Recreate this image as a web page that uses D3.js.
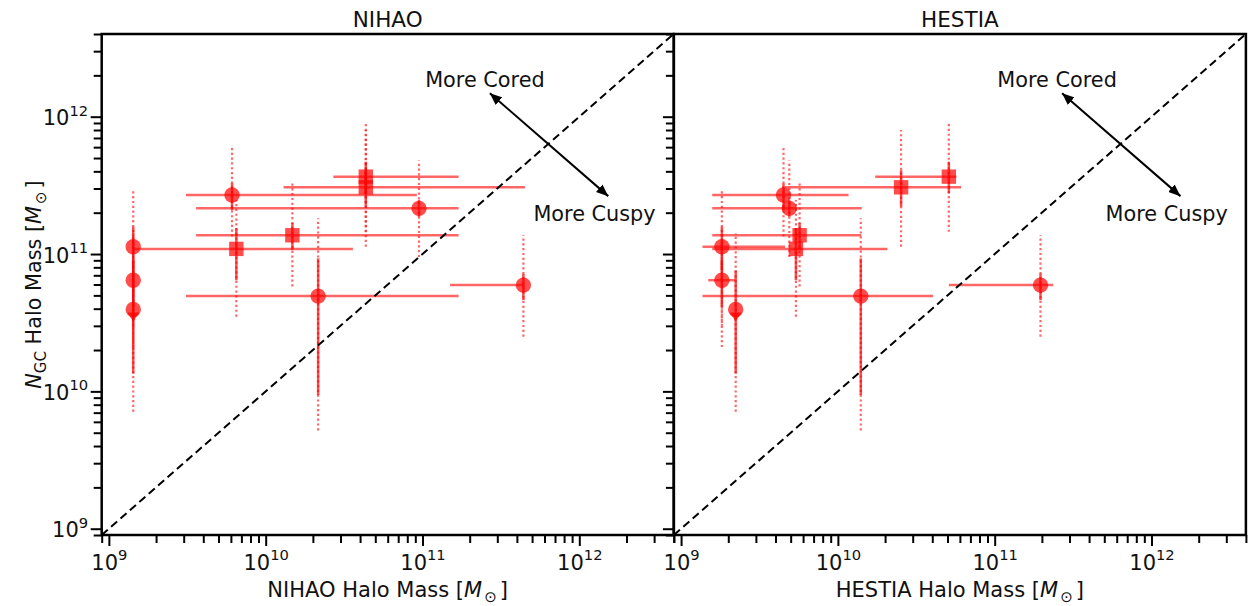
<!DOCTYPE html>
<html>
<head>
<meta charset="utf-8">
<script src="https://cdn.jsdelivr.net/npm/d3@7"></script>
<style>
  html, body { margin: 0; padding: 0; background: #fff; }
  svg { display: block; }
</style>
</head>
<body>
<svg id="chart" width="1250" height="606"></svg>
<script>
// Halo masses inferred from globular-cluster counts (y for both panels)
const ngcMass = [1.13e11, 6.45e10, 3.95e10, 1.09e11, 2.69e11, 2.15e11, 1.37e11, 3.66e11, 3.06e11, 4.94e10, 5.94e10];
// Inner (solid) and outer (dotted) uncertainty ranges on the GC-based mass
const ngcMassSolid = [[7.6e10, 1.58e11], [4.1e10, 9.0e10], [1.35e10, 7.6e10], [6.45e10, 1.54e11], [2.09e11, 3.27e11], [1.87e11, 2.47e11], [1.07e11, 1.68e11], [2.77e11, 4.7e11], [2.21e11, 4.08e11], [9.4e9, 9.3e10], [4.6e10, 7.2e10]];
const ngcMassDotted = [[2.1e10, 2.96e11], [3.0e10, 1.3e11], [7.1e9, 1.41e11], [3.5e10, 2.47e11], [1.34e11, 6.2e11], [9.5e10, 4.8e11], [5.8e10, 3.27e11], [1.45e11, 9.2e11], [1.13e11, 8.0e11], [5.2e9, 1.82e11], [2.5e10, 1.37e11]];

// Simulation-matched halo masses and their ranges
const nihaoMass = [1.43e9, 1.43e9, 1.43e9, 6.5e9, 6.1e9, 9.5e10, 1.48e10, 4.35e10, 4.35e10, 2.16e10, 4.4e11];
const nihaoMassRange = [[1.43e9, 1.43e9], [1.43e9, 1.43e9], [1.43e9, 1.43e9], [1.43e9, 3.6e10], [3.1e9, 9.2e10], [3.6e9, 1.7e11], [3.6e9, 1.7e11], [2.7e10, 1.7e11], [1.3e10, 4.5e11], [3.1e9, 1.7e11], [1.5e11, 4.4e11]];
const hestiaMass = [1.82e9, 1.82e9, 2.23e9, 5.4e9, 4.5e9, 4.9e9, 5.7e9, 5.1e10, 2.53e10, 1.4e10, 1.96e11];
const hestiaMassRange = [[1.37e9, 4.6e9], [1.49e9, 2.21e9], [2.23e9, 2.23e9], [1.58e9, 2.07e10], [1.58e9, 1.17e10], [1.58e9, 1.42e10], [1.58e9, 1.41e10], [1.73e10, 5.7e10], [4.6e9, 6.1e10], [1.37e9, 4.05e10], [5.1e10, 2.36e11]];

const markerShape = ["circle", "circle", "circle", "square", "circle", "circle", "square", "square", "square", "circle", "circle"];
const upperLimit = [false, false, true, false, false, false, false, false, false, false, false];

const panelTitles = ["NIHAO", "HESTIA"];
const axisLimits = [9e8, 4e12];
const decadeTicks = [1e9, 1e10, 1e11, 1e12];

// Annotation anchors, in data units
const coredArrowEnd = [2.69e11, 1.48e12];
const cuspyArrowEnd = [1.53e12, 2.64e11];
const coredLabelAt = [2.5e11, 1.64e12];
const cuspyLabelAt = [1.25e12, 1.75e11];

const FONT = "'DejaVu Sans', sans-serif";
const INK = "#111";
const svg = d3.select("#chart");

const plotTop = 34, plotBottom = 535, panelWidth = 572;
const panelLefts = [101.7, 673.9];

const minorTicks = [];
for (let e = 8; e <= 12; e++) {
  for (let m = 2; m <= 9; m++) {
    const v = m * Math.pow(10, e);
    if (v >= axisLimits[0] * 0.999 && v <= axisLimits[1] * 1.001) minorTicks.push(v);
  }
}

const defs = svg.append("defs");
defs.append("marker")
  .attr("id", "arrowhead")
  .attr("viewBox", "0 0 12 10")
  .attr("refX", 12).attr("refY", 5)
  .attr("markerWidth", 12).attr("markerHeight", 10)
  .attr("markerUnits", "userSpaceOnUse")
  .attr("orient", "auto-start-reverse")
  .append("path").attr("d", "M0,0 L12,5 L0,10 Z").attr("fill", "#000");

function setSci(text, d, supShift) {
  const e = Math.round(Math.log10(d));
  text.text(null);
  text.append("tspan").text("10");
  text.append("tspan").attr("dy", -supShift).attr("font-size", "0.7em").text(e);
}

function massLabel(sel, prefix) {
  sel.append("tspan").text(prefix + " [");
  sel.append("tspan").attr("font-style", "italic").text("M");
  sel.append("tspan").attr("font-size", "0.72em").attr("dy", 5).attr("dx", 2).text("⊙");
  sel.append("tspan").attr("dy", -5).attr("dx", 3).text("]");
}

panelTitles.forEach((title, p) => {
  const left = panelLefts[p];
  const xMass = p === 0 ? nihaoMass : hestiaMass;
  const xRange = p === 0 ? nihaoMassRange : hestiaMassRange;

  const x = d3.scaleLog().domain(axisLimits).range([left, left + panelWidth]);
  const y = d3.scaleLog().domain(axisLimits).range([plotBottom, plotTop]);

  const clipId = "clip" + p;
  defs.append("clipPath").attr("id", clipId)
    .append("rect").attr("x", left).attr("y", plotTop).attr("width", panelWidth).attr("height", plotBottom - plotTop);

  const g = svg.append("g");
  const marks = g.append("g").attr("clip-path", `url(#${clipId})`);

  // Outer (dotted) vertical uncertainty
  marks.append("g").selectAll("line").data(ngcMassDotted).join("line")
    .attr("x1", (d, i) => x(xMass[i])).attr("x2", (d, i) => x(xMass[i]))
    .attr("y1", d => y(d[0])).attr("y2", d => y(d[1]))
    .attr("stroke", "red").attr("stroke-opacity", 0.6)
    .attr("stroke-width", 2.2).attr("stroke-dasharray", "2.2,2.6");

  // Inner (solid) vertical uncertainty
  marks.append("g").selectAll("line").data(ngcMassSolid).join("line")
    .attr("x1", (d, i) => x(xMass[i])).attr("x2", (d, i) => x(xMass[i]))
    .attr("y1", d => y(d[0])).attr("y2", d => y(d[1]))
    .attr("stroke", "red").attr("stroke-opacity", 0.7).attr("stroke-width", 2.5);

  // Horizontal mass range from the simulation match
  marks.append("g").selectAll("line").data(xRange).join("line")
    .attr("x1", d => x(d[0])).attr("x2", d => x(d[1]))
    .attr("y1", (d, i) => y(ngcMass[i])).attr("y2", (d, i) => y(ngcMass[i]))
    .attr("stroke", "red").attr("stroke-opacity", 0.6).attr("stroke-width", 2.5);

  // Markers
  const pts = marks.append("g").selectAll("g").data(ngcMass).join("g")
    .attr("transform", (d, i) => `translate(${x(xMass[i])},${y(d)})`);
  pts.filter((d, i) => markerShape[i] === "circle").append("circle")
    .attr("r", 7.7).attr("fill", "red").attr("fill-opacity", 0.7);
  pts.filter((d, i) => markerShape[i] === "square").append("rect")
    .attr("x", -7.2).attr("y", -7.2).attr("width", 14.4).attr("height", 14.4)
    .attr("fill", "red").attr("fill-opacity", 0.7);
  pts.filter((d, i) => upperLimit[i]).append("path")
    .attr("d", "M-6,3 L6,3 L0,12 Z").attr("fill", "red").attr("fill-opacity", 0.75);

  // One-to-one line
  marks.append("line")
    .attr("x1", x(axisLimits[0])).attr("y1", y(axisLimits[0]))
    .attr("x2", x(axisLimits[1])).attr("y2", y(axisLimits[1]))
    .attr("stroke", "#000").attr("stroke-width", 2).attr("stroke-dasharray", "8,4.5");

  // Cored / cuspy annotation
  g.append("line")
    .attr("x1", x(coredArrowEnd[0])).attr("y1", y(coredArrowEnd[1]))
    .attr("x2", x(cuspyArrowEnd[0])).attr("y2", y(cuspyArrowEnd[1]))
    .attr("stroke", "#000").attr("stroke-width", 2)
    .attr("marker-start", "url(#arrowhead)").attr("marker-end", "url(#arrowhead)");
  g.append("text").attr("x", x(coredLabelAt[0])).attr("y", y(coredLabelAt[1]))
    .attr("text-anchor", "middle").attr("font-family", FONT).attr("font-size", 20.8)
    .attr("fill", INK).text("More Cored");
  g.append("text").attr("x", x(cuspyLabelAt[0])).attr("y", y(cuspyLabelAt[1]))
    .attr("text-anchor", "middle").attr("font-family", FONT).attr("font-size", 20.8)
    .attr("fill", INK).text("More Cuspy");

  // Axes: minor ticks first (unlabelled), then labelled decade ticks
  const xMinor = g.append("g").attr("transform", `translate(0,${plotBottom})`)
    .call(d3.axisBottom(x).tickValues(minorTicks).tickSize(8).tickFormat(() => ""));
  xMinor.selectAll("text").remove();
  const xAxis = g.append("g").attr("transform", `translate(0,${plotBottom})`)
    .call(d3.axisBottom(x).tickValues(decadeTicks).tickSize(11));
  [xMinor, xAxis].forEach(a => {
    a.selectAll("path.domain").remove();
    a.selectAll(".tick line").attr("stroke", "#000").attr("stroke-width", 2);
  });
  xAxis.selectAll(".tick text")
    .attr("font-family", FONT).attr("font-size", 21).attr("fill", INK)
    .attr("y", 34.5).attr("dy", null)
    .each(function (d) { setSci(d3.select(this), d, 9.5); });

  const yMinor = g.append("g").attr("transform", `translate(${left},0)`)
    .call(d3.axisLeft(y).tickValues(minorTicks).tickSize(8).tickFormat(() => ""));
  yMinor.selectAll("text").remove();
  const yAxis = g.append("g").attr("transform", `translate(${left},0)`)
    .call(d3.axisLeft(y).tickValues(decadeTicks).tickSize(11));
  [yMinor, yAxis].forEach(a => {
    a.selectAll("path.domain").remove();
    a.selectAll(".tick line").attr("stroke", "#000").attr("stroke-width", 2);
  });
  if (p === 0) {
    yAxis.selectAll(".tick text")
      .attr("font-family", FONT).attr("font-size", 21).attr("fill", INK)
      .attr("x", -13.5).attr("y", 8).attr("dy", null)
      .each(function (d) { setSci(d3.select(this), d, 9.5); });
  } else {
    yAxis.selectAll("text").remove();
  }

  // Frame
  g.append("rect").attr("x", left).attr("y", plotTop)
    .attr("width", panelWidth).attr("height", plotBottom - plotTop)
    .attr("fill", "none").attr("stroke", "#000").attr("stroke-width", 2.5);

  // Titles
  g.append("text").attr("x", left + panelWidth / 2).attr("y", 27)
    .attr("text-anchor", "middle").attr("font-family", FONT).attr("font-size", 21.5)
    .attr("fill", INK).text(title);
  const xt = g.append("text").attr("x", left + panelWidth / 2).attr("y", 597)
    .attr("text-anchor", "middle").attr("font-family", FONT).attr("font-size", 21)
    .attr("fill", INK);
  massLabel(xt, title + " Halo Mass");
});

// Shared y-axis title
const yt = svg.append("text")
  .attr("transform", `translate(41,${(plotTop + plotBottom) / 2}) rotate(-90)`)
  .attr("text-anchor", "middle").attr("font-family", FONT).attr("font-size", 20.8)
  .attr("fill", INK);
yt.append("tspan").attr("font-style", "italic").text("N");
yt.append("tspan").attr("font-size", "0.72em").attr("dy", 5).text("GC");
yt.append("tspan").attr("dy", -5).text(" Halo Mass [");
yt.append("tspan").attr("font-style", "italic").text("M");
yt.append("tspan").attr("font-size", "0.72em").attr("dy", 5).attr("dx", 2).text("⊙");
yt.append("tspan").attr("dy", -5).attr("dx", 3).text("]");
</script>
</body>
</html>
